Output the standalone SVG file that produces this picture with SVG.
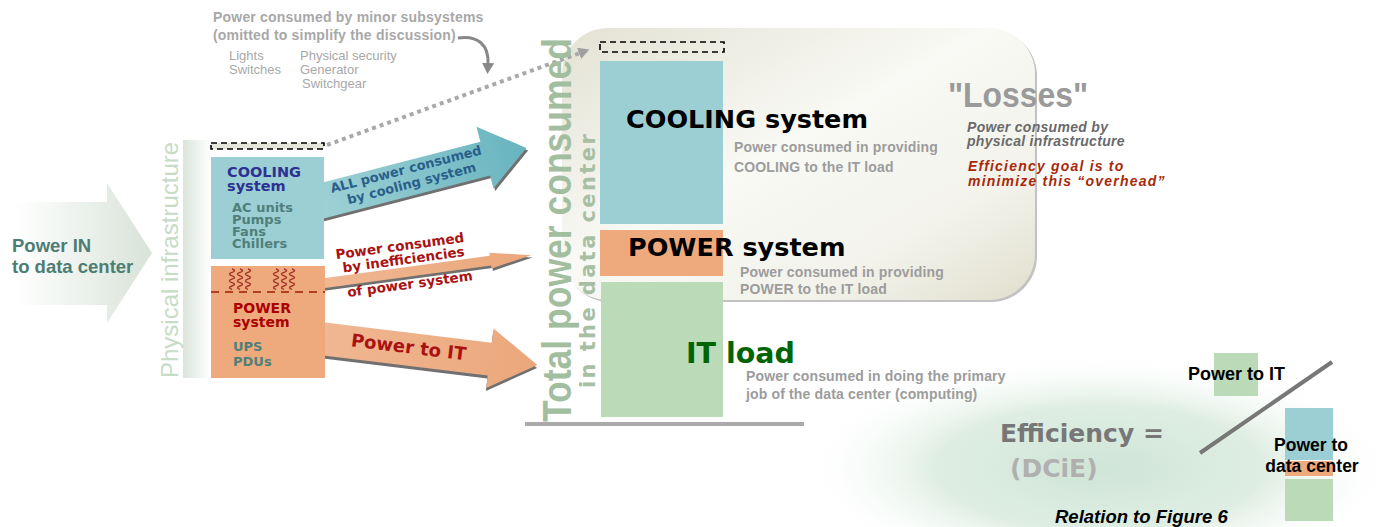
<svg xmlns="http://www.w3.org/2000/svg" width="1376" height="527" viewBox="0 0 1376 527">
<defs>
  <linearGradient id="gIn" x1="0" y1="0" x2="1" y2="0">
    <stop offset="0" stop-color="#ffffff"/>
    <stop offset="1" stop-color="#d8e3d9"/>
  </linearGradient>
  <linearGradient id="gBand" x1="0" y1="0" x2="1" y2="0">
    <stop offset="0" stop-color="#dbe5dc"/>
    <stop offset="1" stop-color="#ffffff"/>
  </linearGradient>
  <linearGradient id="gLoss" x1="0" y1="0" x2="1" y2="1">
    <stop offset="0" stop-color="#e3e2d3"/>
    <stop offset="0.45" stop-color="#f9f9f5"/>
    <stop offset="0.75" stop-color="#f3f3ec"/>
    <stop offset="1" stop-color="#e0dfcd"/>
  </linearGradient>
  <radialGradient id="gGlow" cx="0.5" cy="0.5" r="0.5">
    <stop offset="0" stop-color="#cfe5d6"/>
    <stop offset="0.55" stop-color="#dfeee3"/>
    <stop offset="1" stop-color="#ffffff" stop-opacity="0"/>
  </radialGradient>
  <linearGradient id="gCool" x1="0" y1="0" x2="1" y2="0">
    <stop offset="0" stop-color="#9fd1d6"/>
    <stop offset="1" stop-color="#68b4bf"/>
  </linearGradient>
  <linearGradient id="gPow" x1="0" y1="0" x2="1" y2="0">
    <stop offset="0" stop-color="#f0b894"/>
    <stop offset="1" stop-color="#eba77a"/>
  </linearGradient>
  <marker id="mGray" markerUnits="userSpaceOnUse" markerWidth="12" markerHeight="12" refX="1" refY="6" orient="auto">
    <path d="M0,0 L11,6 L0,12 z" fill="#a0a0a0"/>
  </marker>
  <marker id="mDark" markerUnits="userSpaceOnUse" markerWidth="12" markerHeight="12" refX="1" refY="6" orient="auto">
    <path d="M0,0 L11,6 L0,12 z" fill="#888888"/>
  </marker>
  <path id="squig" d="M0,0 q5,1.7 0,3.4 q-5,1.7 0,3.4 q5,1.7 0,3.4 q-5,1.7 0,3.4 q5,1.7 0,3.4 q-5,1.7 0,3.4" fill="none" stroke="#a0302a" stroke-width="1.4"/>
</defs>
<style>
  text { font-family: "Liberation Sans", Arial, sans-serif; }
  .b { font-weight: bold; }
  .bi { font-weight: bold; font-style: italic; }
  .v { font-family: "DejaVu Sans", Verdana, sans-serif; font-weight: bold; }
  .note { fill: #a8a8a8; }
  .desc { fill: #9c9c9c; font-weight: bold; font-size: 14px; letter-spacing: 0.15px; }
  .big { fill: #000; font-size: 25.5px; }
  .item { fill: #4f7f7a; font-size: 13px; }
  .dash { fill: none; stroke: #000; stroke-width: 1.6; stroke-dasharray: 6 4; }
  .cool { fill: #9ccfd3; }
  .pow { fill: #eeaa7c; }
  .it { fill: #bbdbb8; }
  .shadow { fill: #707070; }
</style>

<!-- background glow -->
<ellipse cx="1100" cy="468" rx="300" ry="115" fill="url(#gGlow)"/>

<!-- Losses box -->
<g id="losses-box">
  <rect x="564" y="30" width="473" height="272" rx="46" fill="#c2c2c2"/>
  <rect x="562" y="28" width="473" height="272" rx="46" fill="url(#gLoss)"/>
  <text x="948" y="107" class="b" font-size="35" fill="#9a9a9a" textLength="140" lengthAdjust="spacingAndGlyphs">"Losses"</text>
  <text class="bi" font-size="14" fill="#6a6a6a" letter-spacing="0.3"><tspan x="967" y="132">Power consumed by</tspan><tspan x="967" y="146">physical infrastructure</tspan></text>
  <text class="bi" font-size="14" fill="#a8290a" letter-spacing="1.2"><tspan x="968" y="171">Efficiency goal is to</tspan><tspan x="968" y="186">minimize this “overhead”</tspan></text>
</g>

<!-- top note -->
<g id="minor-note">
  <text class="b note" font-size="14" letter-spacing="0.2"><tspan x="213" y="22">Power consumed by minor subsystems</tspan><tspan x="213" y="40">(omitted to simplify the discussion)</tspan></text>
  <text class="note" font-size="13"><tspan x="229" y="60">Lights</tspan><tspan x="229" y="74">Switches</tspan></text>
  <text class="note" font-size="13"><tspan x="300" y="60">Physical security</tspan><tspan x="300" y="74">Generator</tspan><tspan x="302" y="88">Switchgear</tspan></text>
</g>

<!-- connectors -->
<g id="connectors">
  <path d="M458,38 C478,35 489,45 488,64" fill="none" stroke="#888888" stroke-width="3" marker-end="url(#mDark)"/>
  <path d="M327,145 L580,53" fill="none" stroke="#a9a9a9" stroke-width="4" stroke-dasharray="4 4" marker-end="url(#mGray)"/>

  <g id="arrow-cooling" transform="translate(325,200) rotate(-14.5)">
    <polygon class="shadow" transform="translate(1,3)" points="-10,-17.5 165,-17.5 165,-33 208,0 166,31 166,17.5 -10,17.5"/>
    <polygon fill="url(#gCool)" points="-10,-17.5 165,-17.5 165,-33 208,0 166,31 166,17.5 -10,17.5"/>
    <text class="v" font-size="13" fill="#2a5f8a" text-anchor="middle"><tspan x="86" y="-5">ALL power consumed</tspan><tspan x="88" y="10">by cooling system</tspan></text>
  </g>

  <g id="arrow-ineff" transform="translate(325,283) rotate(-7.7)">
    <polygon class="shadow" transform="translate(1,2.5)" points="-10,-5 167,-5 167,-8 208,0 167,8 167,5 -10,5"/>
    <polygon fill="url(#gPow)" points="-10,-5 167,-5 167,-8 208,0 167,8 167,5 -10,5"/>
    <text class="v" font-size="13.5" fill="#aa1111" text-anchor="middle"><tspan x="79" y="-22">Power consumed</tspan><tspan x="81" y="-8">by inefficiencies</tspan><tspan x="84" y="17">of power system</tspan></text>
  </g>

  <g id="arrow-it" transform="translate(325,339) rotate(7)">
    <polygon class="shadow" transform="translate(0,3)" points="-10,-16.5 166,-16.5 166,-31 214,0 166,29 166,16.5 -10,16.5"/>
    <polygon fill="url(#gPow)" points="-10,-16.5 166,-16.5 166,-31 214,0 166,29 166,16.5 -10,16.5"/>
    <text x="84" y="4" class="v" font-size="18" fill="#aa1111" text-anchor="middle">Power to IT</text>
  </g>
</g>

<!-- Power IN -->
<g id="power-in">
  <polygon points="15,202 107,202 107,183 152,253 107,323 107,305 15,305" fill="url(#gIn)"/>
  <text class="b" font-size="18.5" fill="#4d7d73"><tspan x="12" y="252">Power IN</tspan><tspan x="12" y="273">to data center</tspan></text>
</g>

<!-- Physical infrastructure -->
<g id="physical-infrastructure">
  <rect x="183" y="140" width="28" height="238" fill="url(#gBand)"/>
  <text transform="translate(178,378) rotate(-90)" font-size="24" fill="#c6dcc6">Physical infrastructure</text>
</g>

<!-- Left minor subsystems box -->
<g id="left-minor">
  <rect x="211" y="143" width="113" height="6" class="dash" style="fill:#e6e6da"/>
</g>

<!-- Left cooling box -->
<g id="left-cooling">
  <rect x="211" y="157" width="113" height="102" class="cool"/>
  <text class="v" font-size="14.5" fill="#2e3192"><tspan x="227" y="177">COOLING</tspan><tspan x="227" y="191">system</tspan></text>
  <text class="v item"><tspan x="232" y="212">AC units</tspan><tspan x="232" y="224">Pumps</tspan><tspan x="232" y="236">Fans</tspan><tspan x="232" y="248">Chillers</tspan></text>
</g>

<!-- Left power box -->
<g id="left-power">
  <rect x="211" y="266" width="114" height="112" class="pow"/>
  <use href="#squig" x="232" y="269"/>
  <use href="#squig" x="240" y="269"/>
  <use href="#squig" x="248" y="269"/>
  <use href="#squig" x="276" y="269"/>
  <use href="#squig" x="284" y="269"/>
  <use href="#squig" x="292" y="269"/>
  <line x1="211" y1="292" x2="325" y2="292" stroke="#b04020" stroke-width="2" stroke-dasharray="8 6"/>
  <text class="v" font-size="14" fill="#aa0000"><tspan x="233" y="313">POWER</tspan><tspan x="233" y="327">system</tspan></text>
  <text class="v item"><tspan x="233" y="351">UPS</tspan><tspan x="233" y="366">PDUs</tspan></text>
</g>

<!-- Total power label -->
<g id="total-label">
  <text transform="translate(571,422) rotate(-90)" class="b" font-size="40" fill="#a3bd9f" textLength="384" lengthAdjust="spacingAndGlyphs">Total power consumed</text>
  <text transform="translate(595,388) rotate(-90)" class="v" font-size="21" fill="#a8bfa4" letter-spacing="2.4">in the data center</text>
  <line x1="525" y1="424" x2="804" y2="424" stroke="#aaaaaa" stroke-width="4"/>
</g>

<!-- Stack -->
<g id="stack-minor">
  <rect x="600" y="42" width="124" height="10" class="dash"/>
</g>
<g id="stack-cooling">
  <rect x="600" y="61" width="123" height="163" class="cool"/>
  <text x="626" y="128" class="v big">COOLING system</text>
  <text class="desc"><tspan x="734" y="152">Power consumed in providing</tspan><tspan x="734" y="172">COOLING to the IT load</tspan></text>
</g>
<g id="stack-power">
  <rect x="600" y="230" width="123" height="46" class="pow"/>
  <text x="628" y="256" class="v big">POWER system</text>
  <text class="desc"><tspan x="740" y="277">Power consumed in providing</tspan><tspan x="740" y="294">POWER to the IT load</tspan></text>
</g>
<g id="stack-it">
  <rect x="601" y="282" width="122" height="135" class="it"/>
  <text x="686" y="363" class="v" font-size="28.5" fill="#006400">IT load</text>
  <text class="desc"><tspan x="746" y="381">Power consumed in doing the primary</tspan><tspan x="746" y="399">job of the data center (computing)</tspan></text>
</g>

<!-- Efficiency -->
<g id="efficiency">
  <text x="1000" y="442" class="v" font-size="25" fill="#777777">Efficiency =</text>
  <text x="1010" y="477" class="v" font-size="25" fill="#b0b0b0">(DCiE)</text>
  <rect x="1214" y="353" width="44" height="43" class="it"/>
  <text x="1188" y="380" class="b" font-size="18" fill="#000">Power to IT</text>
  <line x1="1200" y1="453" x2="1332" y2="362" stroke="#777777" stroke-width="4"/>
  <rect x="1285" y="408" width="48" height="52" class="cool"/>
  <rect x="1285" y="461" width="48" height="15" class="pow"/>
  <rect x="1285" y="479" width="48" height="42" class="it"/>
  <text class="b" font-size="17.5" fill="#000" text-anchor="middle"><tspan x="1311" y="451">Power to</tspan><tspan x="1312" y="472">data center</tspan></text>
  <text x="1055" y="523" class="bi" font-size="18.5" fill="#000">Relation to Figure 6</text>
</g>
</svg>
